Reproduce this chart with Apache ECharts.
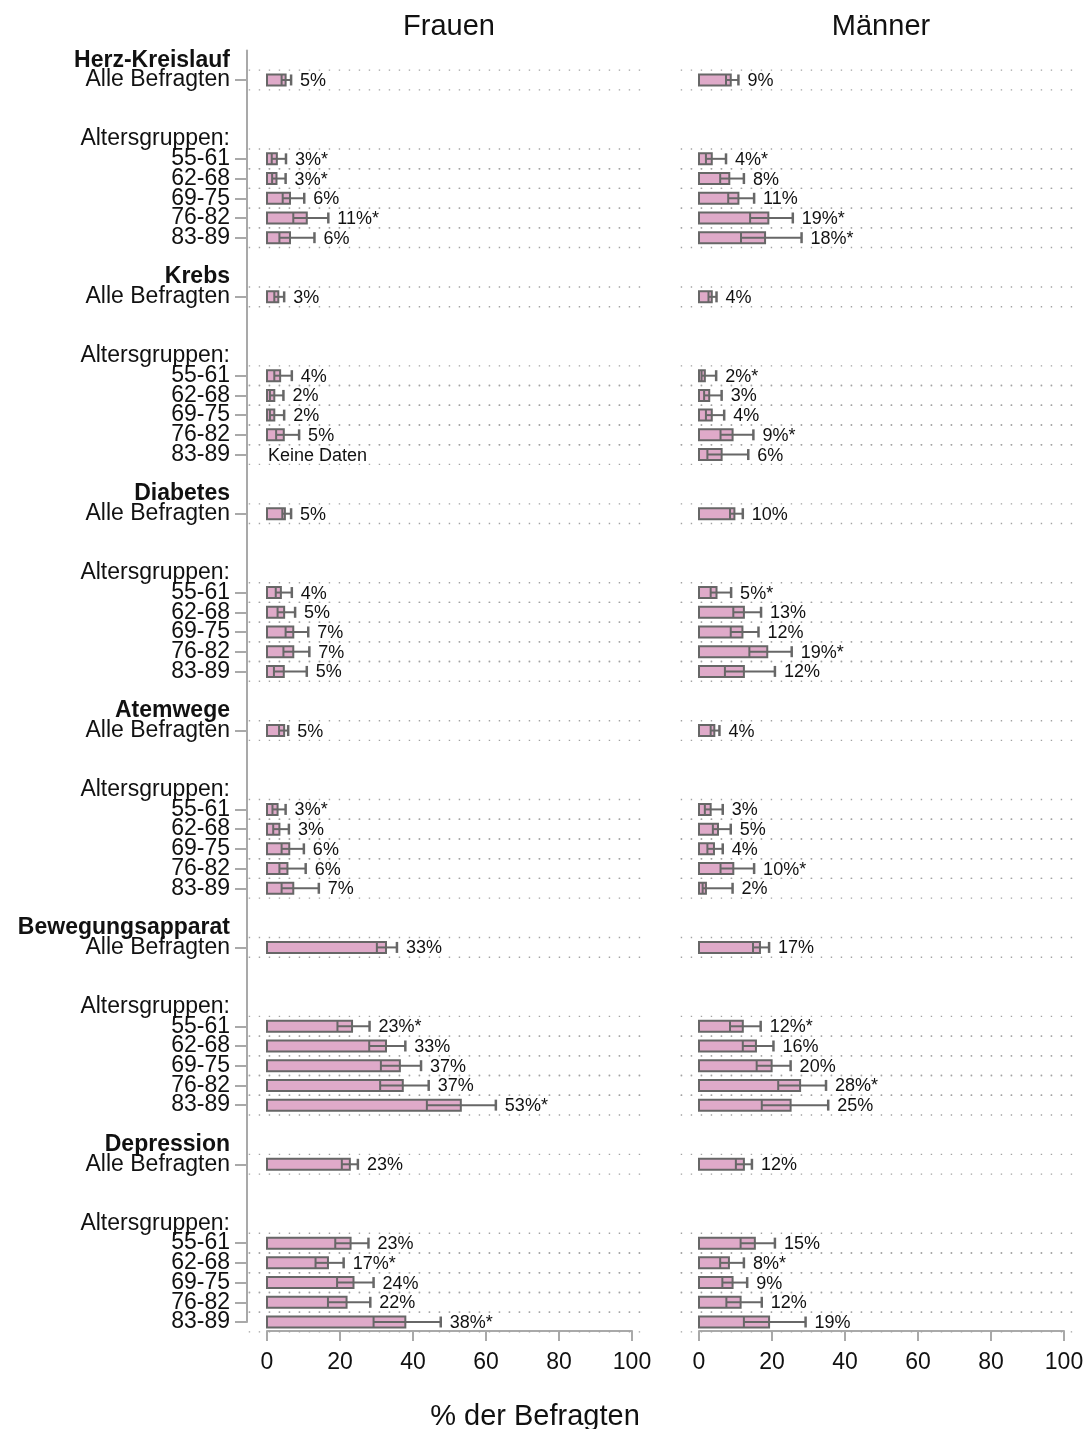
<!DOCTYPE html>
<html>
<head>
<meta charset="utf-8">
<script src="https://cdn.jsdelivr.net/npm/echarts@6/dist/echarts.min.js"></script>
<style>
  html, body { margin: 0; padding: 0; background: #fff; }
  #chart { width: 1090px; height: 1429px; }
</style>
</head>
<body>
<div id="chart"></div>
<script>
// Krankheitsgruppen und Altersgruppen
const categories = ['Herz-Kreislauf', 'Krebs', 'Diabetes', 'Atemwege', 'Bewegungsapparat', 'Depression']
const ageGroups = ['55-61', '62-68', '69-75', '76-82', '83-89']

// je Gruppe: Alle Befragten, 55-61, 62-68, 69-75, 76-82, 83-89
const frauenWert = [
  5.1, 2.7, 2.6, 6.3, 10.9, 6.3,
  3.1, 3.6, 2.0, 2.0, 4.6, null,
  4.9, 3.8, 4.7, 7.2, 7.2, 4.6,
  4.7, 2.9, 3.4, 6.1, 5.6, 7.2,
  32.6, 23.3, 32.6, 36.4, 37.2, 53.1,
  22.7, 22.9, 16.7, 23.7, 21.8, 37.9
]
const frauenUnten = [
  4.0, 1.3, 1.4, 4.3, 7.2, 3.4,
  2.0, 2.0, 0.8, 0.8, 2.5, null,
  4.2, 2.4, 2.9, 5.1, 4.5, 1.9,
  3.3, 1.5, 1.7, 4.0, 3.4, 4.0,
  30.1, 19.3, 28.0, 31.2, 31.0, 43.8,
  20.5, 18.7, 13.3, 19.2, 16.7, 29.2
]
const frauenOben = [
  6.6, 5.2, 5.1, 10.2, 16.8, 13.0,
  4.7, 6.8, 4.5, 4.7, 8.8, null,
  6.6, 6.8, 7.7, 11.3, 11.6, 10.9,
  5.8, 5.1, 6.0, 10.1, 10.6, 14.2,
  35.6, 28.1, 37.9, 42.2, 44.3, 62.7,
  24.9, 27.8, 21.0, 29.2, 28.3, 47.6
]
const frauenText = [
  '5%', '3%*', '3%*', '6%', '11%*', '6%',
  '3%', '4%', '2%', '2%', '5%', 'Keine Daten',
  '5%', '4%', '5%', '7%', '7%', '5%',
  '5%', '3%*', '3%', '6%', '6%', '7%',
  '33%', '23%*', '33%', '37%', '37%', '53%*',
  '23%', '23%', '17%*', '24%', '22%', '38%*'
]

const maennerWert = [
  8.7, 3.5, 8.3, 10.8, 19.0, 18.1,
  3.5, 1.6, 2.8, 3.5, 9.2, 6.2,
  9.7, 4.8, 12.3, 11.9, 18.7, 12.3,
  4.2, 3.2, 5.2, 4.1, 9.4, 1.9,
  16.7, 12.0, 15.6, 19.9, 27.7, 25.1,
  12.3, 15.3, 8.2, 9.2, 11.4, 19.2
]
const maennerUnten = [
  7.4, 1.9, 5.8, 8.0, 14.0, 11.5,
  2.6, 0.7, 1.4, 1.9, 5.9, 2.3,
  8.5, 3.2, 9.4, 8.7, 13.8, 7.1,
  3.2, 1.6, 3.8, 2.3, 5.9, 1.0,
  14.8, 8.5, 12.0, 15.8, 21.7, 17.2,
  10.1, 11.4, 5.8, 6.4, 7.5, 12.3
]
const maennerOben = [
  10.8, 7.4, 12.3, 15.1, 25.7, 28.1,
  4.8, 4.7, 6.2, 6.9, 14.9, 13.5,
  12.0, 8.8, 17.0, 16.3, 25.4, 20.8,
  5.6, 6.5, 8.7, 6.5, 15.1, 9.2,
  19.2, 16.9, 20.4, 25.1, 34.8, 35.4,
  14.5, 20.8, 12.3, 13.2, 17.2, 29.2
]
const maennerText = [
  '9%', '4%*', '8%', '11%', '19%*', '18%*',
  '4%', '2%*', '3%', '4%', '9%*', '6%',
  '10%', '5%*', '13%', '12%', '19%*', '12%',
  '4%', '3%', '5%', '4%', '10%*', '2%',
  '17%', '12%*', '16%', '20%', '28%*', '25%',
  '12%', '15%', '8%*', '9%', '12%', '19%'
]

const xTicks = [0, 20, 40, 60, 80, 100]

const FONT = '"Liberation Sans", Arial, Helvetica, sans-serif'
const BAR_FILL = '#dfaac9'
const EDGE = '#676767'
const AXIS_GREY = '#a9a9a9'

// y-Kategorien: ein Slot ~ halbe Zeile, Leerslots als Abstand
const slots = ['']
const rowSlot = []
categories.forEach((cat, g) => {
  if (g > 0) slots.push('', '', '')
  slots.push({ value: cat, textStyle: { fontWeight: 'bold' } })
  slots.push('')
  rowSlot.push(slots.length)
  slots.push('Alle Befragten')
  slots.push('', '', '', '', '')
  slots.push('Altersgruppen:')
  ageGroups.forEach(a => {
    slots.push('')
    rowSlot.push(slots.length)
    slots.push(a)
  })
})
const tickSet = new Set(rowSlot)

function buildData(wert, unten, oben) {
  return rowSlot.map((s, i) => [s, unten[i], wert[i], oben[i]])
}

function makeRender(texts) {
  return function (params, api) {
    const i = params.dataIndex
    const slot = api.value(0)
    const p0 = api.coord([0, slot])
    const y = p0[1]
    const step = api.coord([0, slot + 1])[1] - y
    const xa = api.coord([-5, slot])[0]
    const xb = api.coord([104, slot])[0]
    const dot = { stroke: '#a3a3a3', lineWidth: 1.4, lineDash: [1.4, 8.6] }
    const children = [
      { type: 'line', shape: { x1: xa, y1: y - step, x2: xb, y2: y - step }, style: dot },
      { type: 'line', shape: { x1: xa, y1: y + step, x2: xb, y2: y + step }, style: dot }
    ]
    const v = api.value(2)
    if (isNaN(v)) {
      children.push({
        type: 'text',
        style: { text: texts[i], x: p0[0] + 1, y: y + 1, verticalAlign: 'middle', fontSize: 18, fontFamily: FONT, fill: '#111' }
      })
      return { type: 'group', children }
    }
    const xv = api.coord([v, slot])[0]
    const xlo = api.coord([api.value(1), slot])[0]
    const xup = api.coord([api.value(3), slot])[0]
    const hb = 5.5
    const ln = { stroke: EDGE, lineWidth: 2 }
    children.push({
      type: 'rect',
      shape: { x: p0[0], y: y - hb, width: xv - p0[0], height: hb * 2 },
      style: { fill: BAR_FILL, stroke: EDGE, lineWidth: 2 }
    })
    children.push({ type: 'line', shape: { x1: xlo, y1: y, x2: xup, y2: y }, style: ln })
    children.push({ type: 'line', shape: { x1: xlo, y1: y - hb, x2: xlo, y2: y + hb }, style: ln })
    children.push({ type: 'line', shape: { x1: xup, y1: y - hb, x2: xup, y2: y + hb }, style: { stroke: EDGE, lineWidth: 2.5 } })
    children.push({
      type: 'text',
      style: { text: texts[i], x: xup + 9, y: y + 1, verticalAlign: 'middle', fontSize: 18, fontFamily: FONT, fill: '#111' }
    })
    return { type: 'group', children }
  }
}

const GRID_TOP = 50.4
const GRID_H = 1271.6

function xAxisOpt(idx) {
  return {
    type: 'value',
    gridIndex: idx,
    min: xTicks[0],
    max: xTicks[xTicks.length - 1],
    interval: 20,
    offset: 9,
    axisLine: { show: true, onZero: false, lineStyle: { color: AXIS_GREY, width: 2 } },
    axisTick: { show: true, length: 10, lineStyle: { color: AXIS_GREY, width: 2 } },
    axisLabel: { fontSize: 23, color: '#111', margin: 20, fontFamily: FONT },
    splitLine: { show: false }
  }
}

function yAxisOpt(idx, visible) {
  return {
    type: 'category',
    gridIndex: idx,
    inverse: true,
    boundaryGap: false,
    data: slots,
    offset: 20,
    show: visible,
    axisLine: { show: true, onZero: false, lineStyle: { color: AXIS_GREY, width: 2 } },
    axisTick: {
      show: true, length: 12,
      interval: (index) => tickSet.has(index),
      lineStyle: { color: AXIS_GREY, width: 2 }
    },
    axisLabel: { interval: 0, fontSize: 23, color: '#111', margin: 17, fontFamily: FONT },
    splitLine: { show: false }
  }
}

const titleStyle = { fontSize: 29, fontWeight: 'normal', color: '#111', fontFamily: FONT }

const chart = echarts.init(document.getElementById('chart'), null, { renderer: 'canvas' })
chart.setOption({
  animation: false,
  backgroundColor: '#fff',
  textStyle: { fontFamily: FONT },
  title: [
    { text: 'Frauen', left: 449, top: 12, padding: 0, textAlign: 'center', textStyle: titleStyle },
    { text: 'Männer', left: 881, top: 12, padding: 0, textAlign: 'center', textStyle: titleStyle },
    { text: '% der Befragten', left: 535, top: 1402, padding: 0, textAlign: 'center', textStyle: titleStyle }
  ],
  grid: [
    { left: 267, width: 365, top: GRID_TOP, height: GRID_H, outerBoundsMode: 'none' },
    { left: 699, width: 365, top: GRID_TOP, height: GRID_H, outerBoundsMode: 'none' }
  ],
  xAxis: [xAxisOpt(0), xAxisOpt(1)],
  yAxis: [yAxisOpt(0, true), yAxisOpt(1, false)],
  series: [
    {
      type: 'custom', name: 'Frauen', xAxisIndex: 0, yAxisIndex: 0, clip: false,
      encode: { x: [1, 2, 3], y: 0 },
      data: buildData(frauenWert, frauenUnten, frauenOben),
      renderItem: makeRender(frauenText)
    },
    {
      type: 'custom', name: 'Männer', xAxisIndex: 1, yAxisIndex: 1, clip: false,
      encode: { x: [1, 2, 3], y: 0 },
      data: buildData(maennerWert, maennerUnten, maennerOben),
      renderItem: makeRender(maennerText)
    }
  ]
})
</script>
</body>
</html>
